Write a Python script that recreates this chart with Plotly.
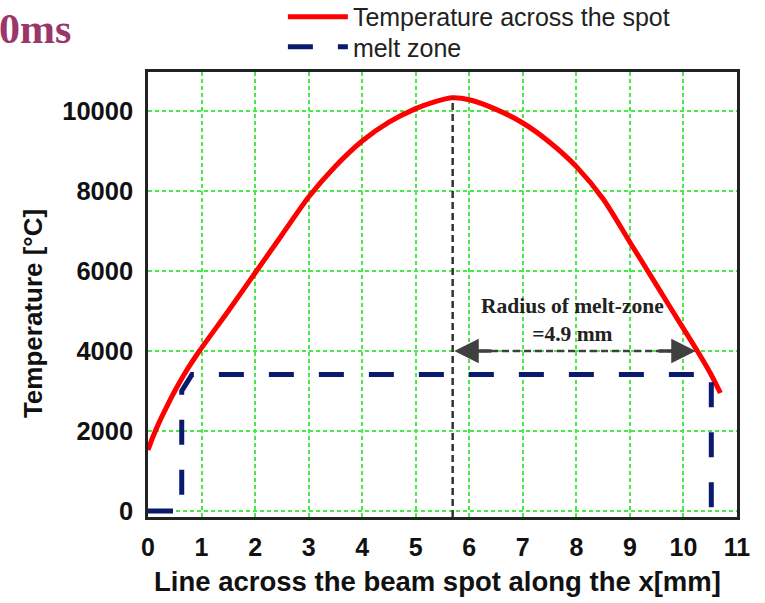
import plotly.graph_objects as go

# Temperature across the spot (x in mm, T in °C)
temp_x = [0.0, 0.1, 0.2, 0.3, 0.48, 0.7, 0.96, 1.5, 2.0, 2.5, 3.0, 3.5, 4.0, 4.5, 5.0, 5.35, 5.69,
          6.0, 6.5, 7.0, 7.5, 8.0, 8.5, 9.0, 9.5, 10.0, 10.26, 10.5, 10.69]
temp_y = [1525, 1880, 2190, 2470, 2950, 3470, 4000, 5000, 5950, 6900, 7850, 8620, 9250, 9720, 10060, 10230, 10330,
          10280, 10040, 9700, 9220, 8610, 7800, 6720, 5640, 4560, 4000, 3450, 2950]

# Melt zone outline
melt_x = [0.0, 0.63, 0.63, 0.82, 10.52, 10.52]
melt_y = [0, 0, 3000, 3410, 3410, 0]

# Peak marker line and melt-zone radius arrow
peak_x = 5.69
peak_y = 10330
radius_y = 4000
radius_x_end = 10.26
radius_label = "<b>Radius of melt-zone<br>=4.9 mm</b>"

x_ticks = list(range(0, 12))
x_ticktext = [str(v) for v in x_ticks]
y_ticks = [0, 2000, 4000, 6000, 8000, 10000]
y_ticktext = [str(v) for v in y_ticks]

fig = go.Figure()
fig.add_trace(go.Scatter(x=temp_x, y=temp_y, mode="lines", name="Temperature across the spot",
                         legend="legend",
                         line=dict(color="#ff0000", width=5, shape="spline", smoothing=0.8)))
fig.add_trace(go.Scatter(x=melt_x, y=melt_y, mode="lines", name="melt zone",
                         legend="legend2",
                         line=dict(color="#0a1a6e", width=5, dash="25px,25px")))

# vertical dashed line at peak
fig.add_shape(type="line", x0=peak_x, x1=peak_x, y0=-150, y1=peak_y, xref="x", yref="y",
              line=dict(color="#333333", width=2.5, dash="7px,4px"))
# radius arrow (dashed shaft)
fig.add_shape(type="line", x0=peak_x + 0.1, x1=radius_x_end - 0.1, y0=radius_y, y1=radius_y,
              xref="x", yref="y", line=dict(color="#404040", width=2.5, dash="7px,4px"))
for tip, tail in [(peak_x + 0.03, peak_x + 0.75), (radius_x_end - 0.03, radius_x_end - 0.75)]:
    fig.add_annotation(x=tip, y=radius_y, ax=tail, ay=radius_y, axref="x", ayref="y",
                       xref="x", yref="y", text="", showarrow=True, arrowhead=2,
                       arrowsize=1.4, arrowwidth=3.5, arrowcolor="#404040")

fig.add_annotation(x=7.92, y=4775, xref="x", yref="y", text=radius_label, showarrow=False,
                   font=dict(family="Liberation Serif", size=21.5, color="#222222"),
                   align="center")

fig.add_annotation(x=-0.256, y=1.097, xref="paper", yref="paper", text="<b>0ms</b>",
                   showarrow=False, xanchor="left", yanchor="middle",
                   font=dict(family="Liberation Serif", size=42, color="#9a3668"))

# axis titles
fig.add_annotation(x=-0.1952, y=0.456, xref="paper", yref="paper", text="<b>Temperature [°C]</b>",
                   showarrow=False, textangle=-90, xanchor="center", yanchor="middle",
                   font=dict(family="Liberation Sans", size=26, color="#111111"))
fig.add_annotation(x=0.4915, y=-0.146, xref="paper", yref="paper",
                   text="<b>Line across the beam spot along the x[mm]</b>",
                   showarrow=False, xanchor="center", yanchor="middle",
                   font=dict(family="Liberation Sans", size=27.5, color="#111111"))

grid_color = "#4be84b"
fig.update_xaxes(range=[0, 11], tickvals=x_ticks, ticktext=x_ticktext, showgrid=True, gridcolor=grid_color,
                 gridwidth=1.5, griddash="4px,3px", showline=True, linecolor="#222222", linewidth=2.5,
                 mirror=True, zeroline=False, ticks="outside", ticklen=6, tickcolor="rgba(0,0,0,0)",
                 tickfont=dict(family="Liberation Sans", size=25, color="#111111", weight="bold"))
fig.update_yaxes(range=[-150, 10975], tickvals=y_ticks, ticktext=y_ticktext, showgrid=True, gridcolor=grid_color,
                 gridwidth=1.5, griddash="4px,3px", showline=True, linecolor="#222222", linewidth=2.5,
                 mirror=True, zeroline=False, ticks="outside", ticklen=7, tickcolor="rgba(0,0,0,0)",
                 tickfont=dict(family="Liberation Sans", size=25.5, color="#111111", weight="bold"))

legend_font = dict(family="Liberation Sans", size=25, color="#222222")
fig.update_layout(
    width=765, height=603, autosize=False,
    margin=dict(l=148, r=28, t=72, b=86, autoexpand=False),
    plot_bgcolor="white", paper_bgcolor="white",
    showlegend=True,
    legend=dict(x=0.229, y=1.1236, xanchor="left", yanchor="middle", bgcolor="rgba(0,0,0,0)",
                font=legend_font, itemwidth=60),
    legend2=dict(x=0.229, y=1.056, xanchor="left", yanchor="middle", bgcolor="rgba(0,0,0,0)",
                 font=legend_font, itemwidth=60),
)

fig.write_html("out.html")
